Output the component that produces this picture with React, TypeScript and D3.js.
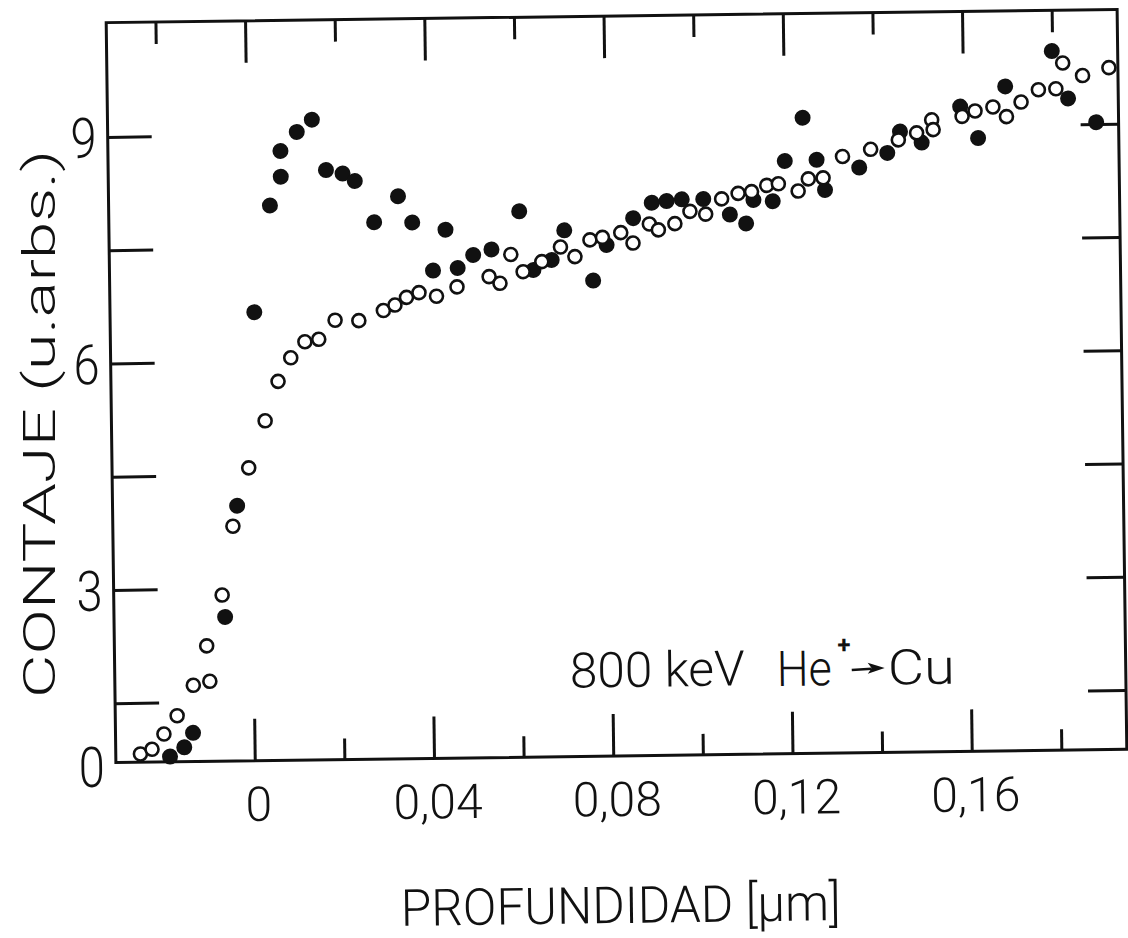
import React from "react";
import * as d3 from "d3";

// Depth (µm) and counts (arb. units) — filled symbols
const depthFilled = [
  -0.019, -0.0158, -0.0138, -0.0063, -0.0033, 0.0011, 0.0049, 0.0074, 0.0074, 0.0111,
  0.0145, 0.0175, 0.0212, 0.0239, 0.0281, 0.0335, 0.0366, 0.044, 0.0411, 0.0466,
  0.0501, 0.0542, 0.0605, 0.0635, 0.0676, 0.0705, 0.0768, 0.0799, 0.0859, 0.0901,
  0.0934, 0.0968, 0.1016, 0.1075, 0.1111, 0.1128, 0.1171, 0.1199, 0.127, 0.1288,
  0.124, 0.1365, 0.1428, 0.1457, 0.1505, 0.1592, 0.1631, 0.1693, 0.1798, 0.1833, 0.1895,
];
const countFilled = [
  0.79, 0.91, 1.1, 2.63, 4.1, 6.66, 8.07, 8.45, 8.79, 9.04,
  9.2, 8.53, 8.48, 8.38, 7.83, 8.17, 7.82, 7.72, 7.18, 7.21,
  7.38, 7.45, 7.95, 7.17, 7.3, 7.69, 7.02, 7.49, 7.84, 8.04,
  8.06, 8.08, 8.08, 7.87, 7.75, 8.06, 8.04, 8.57, 8.58, 8.18,
  9.14, 8.47, 8.66, 8.94, 8.79, 9.26, 8.84, 9.52, 9.98, 9.35, 9.03,
];

// Open symbols
const depthOpen = [
  -0.0256, -0.023, -0.0203, -0.0173, -0.0136, -0.0099, -0.0105, -0.0069, -0.0043, -0.0006,
  0.0032, 0.0062, 0.0091, 0.0123, 0.0154, 0.0191, 0.0244, 0.0299, 0.0325, 0.0351,
  0.0379, 0.0418, 0.0464, 0.0536, 0.056, 0.0585, 0.0612, 0.0654, 0.0696, 0.0728,
  0.0762, 0.079, 0.0831, 0.0858, 0.0895, 0.0915, 0.0952, 0.0986, 0.1021, 0.1057,
  0.1094, 0.1124, 0.1158, 0.1184, 0.1228, 0.1251, 0.1284, 0.1328, 0.1391, 0.1453,
  0.1494, 0.1528, 0.1531, 0.1596, 0.1625, 0.1665, 0.1695, 0.1728, 0.1767, 0.1806,
  0.1822, 0.1866, 0.1925,
];
const countOpen = [
  0.83, 0.89, 1.09, 1.33, 1.73, 1.78, 2.25, 2.92, 3.83, 4.6,
  5.22, 5.74, 6.05, 6.26, 6.29, 6.54, 6.53, 6.66, 6.73, 6.83,
  6.89, 6.84, 6.96, 7.09, 7.0, 7.38, 7.15, 7.28, 7.47, 7.34,
  7.56, 7.59, 7.65, 7.51, 7.76, 7.68, 7.76, 7.92, 7.88, 8.08,
  8.15, 8.17, 8.25, 8.27, 8.17, 8.33, 8.34, 8.62, 8.71, 8.83,
  8.92, 9.09, 8.96, 9.13, 9.2, 9.25, 9.12, 9.31, 9.47, 9.48,
  9.82, 9.65, 9.75,
];

// Axes
const xDomain = [-0.0311, 0.1945];
const yDomain = [0.72, 10.52];
const xMajorTicks = [0, 0.04, 0.08, 0.12, 0.16];
const xTickLabels = ["0", "0,04", "0,08", "0,12", "0,16"];
const xMinorBottom = [0.02, 0.06, 0.1, 0.14, 0.18];
const xMinorTop = [-0.02, 0.02, 0.06, 0.1, 0.14, 0.18];
const yTicks = [1.5, 3, 4.5, 6, 7.5, 9];
const yLabelValues = [yDomain[0], 3, 6, 9];
const yTickLabels = ["0", "3", "6", "9"];

const FONT = "Roboto, 'DejaVu Sans', sans-serif";

export default function App() {
  const L = 111, R = 1122, T = 16, B = 756;
  const x = d3.scaleLinear().domain(xDomain).range([L, R]);
  const y = d3.scaleLinear().domain(yDomain).range([B, T]);
  const sw = 3;
  const ink = "#111";
  const textProps = { fontFamily: FONT, fontWeight: 300, fill: ink } as any;

  return (
    <svg
      width={1128}
      height={938}
      style={{ position: "absolute", left: 0, top: 0, background: "#fff" }}
    >
      <rect x={0} y={0} width={1128} height={938} fill="#fff" />
      <g transform="rotate(-0.75 616 386)">
        <rect x={L} y={T} width={R - L} height={B - T} fill="none" stroke={ink} strokeWidth={sw} />
        {/* bottom ticks */}
        {xMajorTicks.map((v) => (
          <line key={"bM" + v} x1={x(v)} x2={x(v)} y1={B} y2={B - 42} stroke={ink} strokeWidth={sw} />
        ))}
        {xMinorBottom.map((v) => (
          <line key={"bm" + v} x1={x(v)} x2={x(v)} y1={B} y2={B - 21} stroke={ink} strokeWidth={sw} />
        ))}
        {/* top ticks */}
        {xMajorTicks.map((v) => (
          <line key={"tM" + v} x1={x(v)} x2={x(v)} y1={T} y2={T + 42} stroke={ink} strokeWidth={sw} />
        ))}
        {xMinorTop.map((v) => (
          <line key={"tm" + v} x1={x(v)} x2={x(v)} y1={T} y2={T + 22} stroke={ink} strokeWidth={sw} />
        ))}
        {/* left / right ticks */}
        {yTicks.map((v) => (
          <g key={"y" + v}>
            <line x1={L} x2={L + 44} y1={y(v)} y2={y(v)} stroke={ink} strokeWidth={sw} />
            <line x1={R} x2={R - 38} y1={y(v)} y2={y(v)} stroke={ink} strokeWidth={sw} />
          </g>
        ))}
        {/* x tick labels */}
        {xMajorTicks.map((v, i) => (
          <text
            key={"xl" + v}
            x={x(v) + 3}
            y={B + 60}
            textAnchor="middle"
            fontSize={48}
            {...textProps}
          >
            {xTickLabels[i]}
          </text>
        ))}
        {/* y tick labels */}
        {yLabelValues.map((v, i) => (
          <text
            key={"yl" + i}
            transform={`translate(${L - 11},${y(v) + 20 + (i === 0 ? 4 : 0)}) scale(0.84,1)`}
            textAnchor="end"
            fontSize={56}
            {...textProps}
          >
            {yTickLabels[i]}
          </text>
        ))}
        {/* filled points */}
        {depthFilled.map((d, i) => (
          <circle key={"f" + i} cx={x(d)} cy={y(countFilled[i])} r={8} fill={ink} />
        ))}
        {/* open points */}
        {depthOpen.map((d, i) => (
          <circle
            key={"o" + i}
            cx={x(d)}
            cy={y(countOpen[i])}
            r={6.5}
            fill="#fff"
            stroke={ink}
            strokeWidth={2.6}
          />
        ))}
        {/* annotation: 800 keV He+ -> Cu */}
        <text x={566} y={687} fontSize={49} textLength={175} lengthAdjust="spacingAndGlyphs" {...textProps}>
          800 keV
        </text>
        <text x={773} y={688} fontSize={49} textLength={55} lengthAdjust="spacingAndGlyphs" {...textProps}>
          He
        </text>
        <text x={834} y={656} fontSize={24} fontWeight={700} fontFamily={FONT} fill={ink}>
          +
        </text>
        <line x1={848} x2={868} y1={673} y2={672} stroke={ink} strokeWidth={2.6} />
        <path d="M864,666 L881,671.5 L864,677 L868,671.5 Z" fill={ink} />
        <text x={884} y={688} fontSize={49} textLength={67} lengthAdjust="spacingAndGlyphs" {...textProps}>
          Cu
        </text>
        {/* x axis title */}
        <text
          x={394}
          y={923}
          fontSize={51}
          textLength={440}
          lengthAdjust="spacingAndGlyphs"
          {...textProps}
        >
          PROFUNDIDAD [µm]
        </text>
      </g>
      <text
        transform="translate(55,424) rotate(-90)"
        textAnchor="middle"
        fontSize={45}
        textLength={548}
        lengthAdjust="spacingAndGlyphs"
        {...textProps}
      >
        CONTAJE (u.arbs.)
      </text>
    </svg>
  );
}
